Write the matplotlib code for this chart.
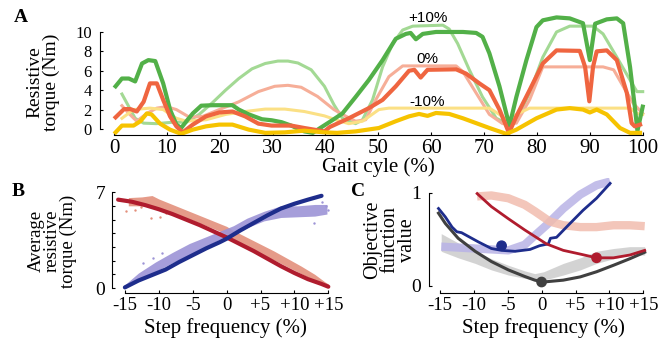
import numpy as np
import matplotlib
matplotlib.use('Agg')
import matplotlib.pyplot as plt

plt.rcParams['font.family'] = ['Liberation Serif', 'DejaVu Serif']

# ---- panel A : resistive torque over the gait cycle ----
green_x = [0.3, 1.5, 2.8, 4, 5.3, 6.5, 7.8, 9.3, 10.6, 11.8, 12.7, 13.7, 14.9, 16.5, 18.6, 22.4, 23.6, 25.5, 28,
           29.8, 31.7, 33.5, 36, 37.6, 39, 41, 43.2, 45.7, 48.2, 50.8, 53.3, 55.2, 56.1, 57.1, 58.4, 60.9, 66,
           68.5, 69.7, 71, 72.9, 74.5, 74.8, 76.1, 78, 79.9, 81.1, 83.7, 86.2, 88.7, 90, 91, 93.2, 95.1, 96.3,
           97.6, 98.5, 99, 100]
green_y = [4.4, 5.2, 5.2, 4.9, 6.75, 7.1, 7.0, 4.7, 2.0, 0.45, 0.1, 0.8, 1.6, 2.4, 2.45, 2.45, 2.0, 1.5, 1.0,
           0.9, 0.7, 0.35, -0.25, -0.4, 0.1, 0.8, 1.6, 3.3, 5.05, 7.1, 9.3, 9.8, 9.9, 9.25, 9.8, 10.0, 10.0,
           9.9, 9.5, 7.8, 4.4, 0.95, 0.35, 3.3, 7.1, 10.5, 11.2, 11.5, 11.4, 10.9, 7.1, 10.85, 11.3, 11.4, 10.9,
           6.4, 2.3, -0.2, 2.3]

green_lt_x = [1.5, 2.8, 4, 5.6, 8, 11.2, 13.7, 16.1, 18.6, 21.1, 23.6, 26.1, 28.6, 31, 32.9, 34.8, 37.3, 39.8,
              41.6, 43.2, 45.7, 47, 48.9, 50.8, 52.7, 54.6, 56.5, 62.2, 63.4, 65, 67.2, 69.7, 72.3, 74.2, 76.1,
              78.6, 81.1, 83.7, 86.2, 90.6, 92.5, 95.1, 97.6, 98.9, 100]
green_lt_y = [3.6, 2.3, 1.1, 0.6, 0.55, 0.7, 0.7, 1.5, 2.7, 4.0, 5.2, 6.2, 6.75, 7.0, 7.0, 6.8, 6.1, 4.4,
              2.5, 1.1, 0.55, 0.95, 3.0, 6.4, 8.8, 10.2, 10.6, 10.7, 10.3, 8.8, 6.1, 3.3, 1.1, 0.6, 0.95,
              3.7, 7.4, 10.0, 10.6, 10.6, 9.8, 7.4, 5.05, 3.85, 3.85]

orange_x = [0.3, 1.9, 3.1, 4.3, 5.6, 6.8, 8.1, 9.3, 10.6, 11.8, 13, 14.9, 17.4, 19.9, 22.4, 24.8, 27.3, 29.8,
            33.5, 36, 39.8, 40.8, 44.4, 48.2, 50.8, 53.3, 55.8, 56.8, 58, 59.3, 64.7, 66.6, 69.1, 71, 72.9,
            74.7, 76.1, 78.6, 81.1, 83.7, 88.1, 89.1, 89.9, 90.6, 91.3, 93.2, 95.1, 97, 97.9, 98.5, 99.5]
orange_y = [1.2, 2.05, 2.05, 1.8, 2.8, 4.7, 4.7, 3.0, 1.3, 0.27, -0.35, 0.45, 1.3, 1.7, 1.8, 1.3, 0.55, 0.35,
            0.35, 0.1, -0.25, 0.2, 1.1, 2.15, 3.0, 4.4, 6.0, 6.1, 5.3, 6.1, 6.15, 5.7, 4.7, 4.0, 2.0,
            -0.4, 1.3, 4.0, 6.75, 8.1, 8.05, 6.4, 2.85, 6.4, 8.0, 8.1, 7.1, 3.7, 0.6, 0.27, 0.45]

orange_lt_x = [1.5, 2.8, 4.3, 6.2, 8.1, 9.9, 11.8, 14.3, 16.8, 19.9, 23.6, 27.3, 30.4, 32.9, 35.4, 38.5, 41.6,
               43.2, 45.7, 47.6, 49.5, 52, 54.6, 64.7, 66, 68.5, 71, 73.5, 76.1, 78.6, 81.1, 82.4, 92.5, 94.5,
               96.3, 98.2, 100]
orange_lt_y = [2.4, 1.6, 0.8, 1.6, 2.15, 2.3, 2.0, 1.2, 1.3, 2.0, 2.8, 3.85, 4.4, 4.5, 4.3, 3.35, 2.0,
               1.5, 0.8, 0.95, 3.0, 5.4, 6.5, 6.5, 5.9, 3.7, 1.5, 0.55, 0.6, 3.0, 6.4, 6.4, 6.4, 6.1,
               4.4, 2.65, 1.6]

yellow_x = [0.3, 1.5, 3.7, 5, 6.2, 7.1, 8.7, 10.6, 12.7, 14.9, 17.4, 19.9, 22.4, 25.5, 28.6, 32.3, 36, 39.8,
            42.2, 45.7, 50.1, 53.3, 55.8, 57.7, 59.3, 60.9, 63.4, 66, 68.5, 71, 74.2, 76.1, 79.9, 83.7, 86.2,
            88.7, 90, 91.3, 93.2, 95.7, 97.6, 99.5]
yellow_y = [-0.35, 0.35, 0.35, 0.8, 1.6, 1.5, 0.55, -0.07, -0.5, -0.07, 0.27, 0.45, 0.45, -0.07, -0.4, -0.35,
            -0.17, -0.35, -0.4, -0.25, 0.1, 0.8, 1.3, 1.55, 1.35, 1.65, 1.55, 1.1, 0.6, 0.1, -0.5, -0.07, 1.1,
            2.0, 2.15, 2.0, 1.7, 2.0, 1.5, 0.1, -0.4, -0.4]

yellow_lt_x = [1.5, 3.7, 6.8, 9.3, 11.8, 13.7, 17.4, 21.1, 24.8, 28.6, 32.3, 36, 39.8, 42.2, 44.4, 47, 50.1,
               52, 71, 72.9, 74.5, 76.1, 78.6, 97.6, 98.9, 100]
yellow_lt_y = [1.1, 2.0, 2.15, 2.0, 1.1, 0.8, 0.95, 1.5, 1.8, 2.05, 2.05, 1.8, 1.35, 0.9, 0.55, 0.8, 2.0,
               2.15, 2.15, 1.5, 0.8, 1.5, 2.15, 2.15, 1.6, 1.5]

a_labels = ['+10%', '0%', '-10%']
a_label_x = [59.3, 59.3, 59.3]
a_label_y = [11.4, 7.2, 2.8]

# ---- panel B : average resistive torque vs step frequency ----
red_line_x = [-16, -14, -12, -10, -8, -6, -4, -2, 0, 2, 4, 6, 8, 10, 12, 14, 15]
red_line_y = [6.45, 6.3, 6.05, 5.75, 5.4, 5.0, 4.6, 4.15, 3.7, 3.2, 2.7, 2.15, 1.6, 1.1, 0.65, 0.3, 0.1]
blue_line_x = [-15, -13, -11, -9, -7, -5, -3, -1, 0, 2, 4, 6, 8, 10, 12, 14]
blue_line_y = [0.05, 0.55, 0.95, 1.35, 1.9, 2.4, 2.9, 3.35, 3.6, 4.2, 4.75, 5.3, 5.8, 6.15, 6.45, 6.73]

red_cloud_x = [-14.5, -12.5, -11, -10, -7.5, -5, -2.5, 0, 1, 3, 5, 7, 9, 11, 13, 14.5, 15]
red_cloud_lo = [6.0, 6.0, 6.0, 5.8, 5.4, 4.95, 4.45, 3.95, 3.6, 3.05, 2.5, 2.05, 1.55, 1.05, 0.55, 0.15, 0.05]
red_cloud_hi = [6.6, 6.65, 6.75, 6.5, 6.0, 5.5, 5.0, 4.5, 4.2, 3.7, 3.2, 2.7, 2.15, 1.6, 1.0, 0.45, 0.3]
blue_cloud_x = [-15, -13, -10.5, -8, -5.5, -3, -1, 1, 3, 5.5, 8, 10.5, 13, 14.8]
blue_cloud_lo = [0.0, 0.65, 1.2, 1.85, 2.45, 3.05, 3.55, 4.0, 4.4, 4.9, 5.15, 5.2, 5.25, 5.4]
blue_cloud_hi = [0.25, 1.1, 1.9, 2.6, 3.25, 3.75, 4.15, 4.55, 5.1, 5.6, 6.0, 6.0, 6.1, 6.1]

red_pts_x = [-14.8, -13.5, -12.6, -11.1, -9.8, -8.9]
red_pts_y = [5.6, 5.7, 5.9, 5.1, 5.2, 5.5]
blue_pts_x = [-12.3, -10.8, -9.6, 12.9, 14.0, 14.6, 15.0]
blue_pts_y = [1.8, 2.2, 2.56, 4.76, 6.3, 6.0, 5.7]

# ---- panel C : objective function value ----
gray_x = [-14.8, -12.3, -9.8, -7.4, -4.9, -2.5, -1.0, 0.3, 3.2, 5.7, 8.1, 10.6, 13.0, 15.2]
gray_lo = [0.37, 0.30, 0.24, 0.17, 0.115, 0.08, 0.06, 0.06, 0.115, 0.17, 0.24, 0.29, 0.33, 0.33]
gray_hi = [0.56, 0.46, 0.37, 0.29, 0.22, 0.16, 0.13, 0.15, 0.24, 0.30, 0.37, 0.40, 0.42, 0.42]

purple_x = [-14.8, -9.8, -4.9, -2.5, -1.3, 0.7, 3.2, 5.7, 8.1, 10.1]
purple_y = [0.42, 0.40, 0.38, 0.44, 0.52, 0.65, 0.83, 0.98, 1.08, 1.12]
salmon_x = [-9.5, -7.4, -4.9, -2.5, -1.0, 1.2, 3.2, 5.7, 8.1, 10.6, 13.0, 15.2]
salmon_y = [0.96, 0.97, 0.94, 0.87, 0.80, 0.69, 0.65, 0.63, 0.63, 0.65, 0.65, 0.64]

dark_x = [-15.2, -14.2, -12.3, -9.8, -7.4, -4.9, -2.5, -1.0, 0.26, 3.2, 5.7, 8.1, 10.6, 13.0, 15.2]
dark_y = [0.78, 0.67, 0.51, 0.37, 0.26, 0.17, 0.10, 0.06, 0.04, 0.06, 0.095, 0.15, 0.22, 0.29, 0.36]
cblue_x = [-15.2, -14.2, -13.2, -12.5, -11.8, -10.8, -9.3, -7.4, -5.9, -3.9, -1.7, -0.3, 1.0, 1.3, 2.2,
           4.2, 6.1, 8.1, 10.1]
cblue_y = [0.83, 0.74, 0.63, 0.58, 0.57, 0.53, 0.47, 0.40, 0.38, 0.37, 0.39, 0.43, 0.45, 0.51, 0.52,
           0.67, 0.81, 0.94, 1.1]
cred_x = [-9.5, -7.4, -4.9, -2.5, -1.0, 0.7, 3.2, 5.7, 8.1, 10.6, 13.0, 15.2]
cred_y = [0.99, 0.85, 0.72, 0.60, 0.53, 0.45, 0.38, 0.34, 0.30, 0.30, 0.33, 0.38]

opt_x = [0, -5.9, 8.1]
opt_y = [0.04, 0.43, 0.30]

step_ticks = [-15, -10, -5, 0, 5, 10, 15]
step_labels = ['-15', '-10', '-5', '0', '+5', '+10', '+15']

GREEN, GREEN_LT = '#52b048', '#a3d994'
ORANGE, ORANGE_LT = '#ef6540', '#f6ae98'
YELLOW, YELLOW_LT = '#f6c300', '#fbe085'
RED, BLUE, DARK = '#b01c2e', '#1e2d8c', '#404040'


def style_axes(ax, ylo, yhi, xlo, xhi, ypad, xsize):
    ax.spines['top'].set_visible(False)
    ax.spines['right'].set_visible(False)
    ax.spines['left'].set_bounds(ylo, yhi)
    ax.spines['bottom'].set_bounds(xlo, xhi)
    ax.tick_params(direction='in', length=2.5, width=0.8)
    ax.tick_params(axis='x', labelsize=xsize, pad=3)
    ax.tick_params(axis='y', pad=ypad)
    ax.set_facecolor('none')


fig = plt.figure(figsize=(6.72, 3.38), dpi=100)

# panel A
axA = fig.add_axes([0.1488, 0.6012, 0.8155, 0.3559])
axA.plot(green_lt_x, green_lt_y, color=GREEN_LT, lw=2.2)
axA.plot(orange_lt_x, orange_lt_y, color=ORANGE_LT, lw=2.2)
axA.plot(yellow_lt_x, yellow_lt_y, color=YELLOW_LT, lw=2.2)
axA.plot(green_x, green_y, color=GREEN, lw=3)
axA.plot(orange_x, orange_y, color=ORANGE, lw=3)
axA.plot(yellow_x, yellow_y, color=YELLOW, lw=3)
for lab, lx, ly in zip(a_labels, a_label_x, a_label_y):
    axA.text(lx, ly, lab, ha='center', va='center', fontsize=11, family='Liberation Sans')
axA.set_xlim(-2.65, 101)
axA.set_ylim(-0.6, 11.8)
axA.set_xticks(range(0, 101, 10))
axA.set_yticks(range(0, 11, 2))
style_axes(axA, 0, 10, 0, 100, 6, 15)
axA.tick_params(axis='y', labelsize=12)

# panel B
axB = fig.add_axes([0.1667, 0.1331, 0.3269, 0.3107])
axB.fill_between(red_cloud_x, red_cloud_lo, red_cloud_hi, color='#e3907c', lw=0, alpha=0.9)
axB.fill_between(blue_cloud_x, blue_cloud_lo, blue_cloud_hi, color='#9d94d6', lw=0, alpha=0.9)
axB.scatter(red_pts_x, red_pts_y, s=3, color='#e3907c', lw=0)
axB.scatter(blue_pts_x, blue_pts_y, s=3, color='#9d94d6', lw=0)
axB.plot(red_line_x, red_line_y, color=RED, lw=3, solid_capstyle='round')
axB.plot(blue_line_x, blue_line_y, color=BLUE, lw=3, solid_capstyle='round')
axB.set_xlim(-16.9, 15.5)
axB.set_ylim(-0.36, 7.3)
axB.set_xticks(step_ticks, step_labels)
axB.set_yticks(range(8), ['0', '', '', '', '', '', '', '7'])
style_axes(axB, 0, 7, -15, 15, 5, 13.5)
axB.tick_params(axis='y', labelsize=14)

# panel C
axC = fig.add_axes([0.6384, 0.134, 0.324, 0.340])
axC.fill_between(gray_x, gray_lo, gray_hi, color='#cfcfcf', lw=0, alpha=0.9)
axC.plot(purple_x, purple_y, color='#b9b3e6', lw=6, alpha=0.85, solid_capstyle='butt')
axC.plot(salmon_x, salmon_y, color='#f1bcae', lw=6, alpha=0.85, solid_capstyle='butt')
axC.plot(dark_x, dark_y, color=DARK, lw=2.2)
axC.plot(cblue_x, cblue_y, color=BLUE, lw=2)
axC.plot(cred_x, cred_y, color=RED, lw=2)
axC.scatter(opt_x, opt_y, s=45, color=[DARK, BLUE, RED], zorder=5)
axC.set_xlim(-16.6, 15.5)
axC.set_ylim(-0.075, 1.16)
axC.set_xticks(step_ticks, step_labels)
axC.set_yticks([0, 1])
style_axes(axC, 0, 1, -15, 15, 6, 13.5)
axC.tick_params(axis='y', labelsize=14)

# labels
fig.text(0.064, 0.757, 'Resistive\ntorque (Nm)', rotation=90, ha='center', va='center',
         fontsize=14, linespacing=0.95)
fig.text(0.078, 0.287, 'Average\nresistive\ntorque (Nm)', rotation=90, ha='center', va='center',
         fontsize=13.5, linespacing=0.9)
fig.text(0.580, 0.290, 'Objective\nfunction\nvalue', rotation=90, ha='center', va='center',
         fontsize=14.5, linespacing=0.9)
fig.text(0.5625, 0.506, 'Gait cyle (%)', ha='center', va='center', fontsize=15)
fig.text(0.336, 0.030, 'Step frequency (%)', ha='center', va='center', fontsize=15)
fig.text(0.808, 0.030, 'Step frequency (%)', ha='center', va='center', fontsize=15)
fig.text(0.031, 0.947, 'A', ha='center', va='center', fontsize=14, fontweight='bold')
fig.text(0.027, 0.432, 'B', ha='center', va='center', fontsize=14, fontweight='bold')
fig.text(0.533, 0.432, 'C', ha='center', va='center', fontsize=14, fontweight='bold')

fig.savefig('out.png', dpi=100)
plt.close(fig)
